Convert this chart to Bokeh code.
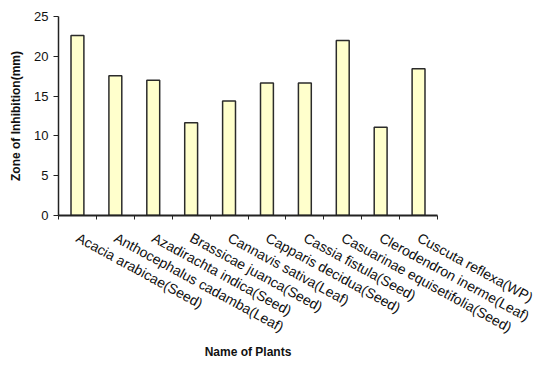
from bokeh.plotting import figure
from bokeh.models import Range1d, FixedTicker, ColumnDataSource
from bokeh.embed import file_html
from bokeh.resources import INLINE

plants = ["Acacia arabicae(Seed)", "Anthocephalus cadamba(Leaf)", "Azadirachta indica(Seed)",
          "Brassicae juanca(Seed)", "Cannavis sativa(Leaf)", "Capparis decidua(Seed)",
          "Cassia fistula(Seed)", "Casuarinae equisetifolia(Seed)", "Clerodendron inerme(Leaf)",
          "Cuscuta reflexa(WP)"]
zone = [22.6, 17.55, 17.0, 11.65, 14.4, 16.65, 16.65, 22.0, 11.1, 18.45]
y_ticks = [0, 5, 10, 15, 20, 25]

pos = [i + 0.5 for i in range(len(plants))]
src = ColumnDataSource(dict(x=pos, top=zone, name=plants))

p = figure(width=539, height=369, output_backend="svg", toolbar_location=None,
           x_range=Range1d(0, len(plants)), y_range=Range1d(0, 25),
           min_border_left=58, min_border_right=102, min_border_top=16, min_border_bottom=154)
p.outline_line_color = None
p.xgrid.visible = False
p.ygrid.visible = False
p.background_fill_color = "white"
p.border_fill_color = "white"

p.vbar(x="x", top="top", width=0.34, source=src, fill_color="#FFFFCC",
       line_color="#2b2b2b", line_width=1.5)

font = "Liberation Sans"
# x axis
xa = p.xaxis[0]
xa.ticker = FixedTicker(ticks=pos, minor_ticks=list(range(len(plants) + 1)))
xa.major_label_overrides = {v: n for v, n in zip(pos, plants)}
xa.major_tick_line_color = None
xa.minor_tick_out = 4
xa.minor_tick_in = 0
xa.minor_tick_line_color = "#222222"
xa.axis_line_color = "#222222"
xa.axis_line_width = 2
xa.major_label_orientation = -0.5
xa.major_label_text_font = font
xa.major_label_text_font_size = "14px"
xa.major_label_text_color = "#111111"
xa.major_label_standoff = 15
xa.axis_label = "Name of Plants"
xa.axis_label_text_font = font
xa.axis_label_text_font_size = "12px"
xa.axis_label_text_font_style = "bold"
xa.axis_label_text_color = "#111111"
xa.axis_label_standoff = 0

ya = p.yaxis[0]
ya.ticker = FixedTicker(ticks=y_ticks)
ya.minor_tick_line_color = None
ya.major_tick_out = 5
ya.major_tick_in = 0
ya.major_tick_line_color = "#222222"
ya.axis_line_color = "#222222"
ya.axis_line_width = 1.5
ya.major_label_text_font = font
ya.major_label_text_font_size = "13px"
ya.major_label_text_color = "#111111"
ya.major_label_standoff = 5
ya.axis_label = "Zone of Inhibition(mm)"
ya.axis_label_text_font = font
ya.axis_label_text_font_size = "12px"
ya.axis_label_text_font_style = "bold"
ya.axis_label_text_color = "#111111"
ya.axis_label_standoff = 8

open("out.html", "w").write(file_html(p, INLINE))
